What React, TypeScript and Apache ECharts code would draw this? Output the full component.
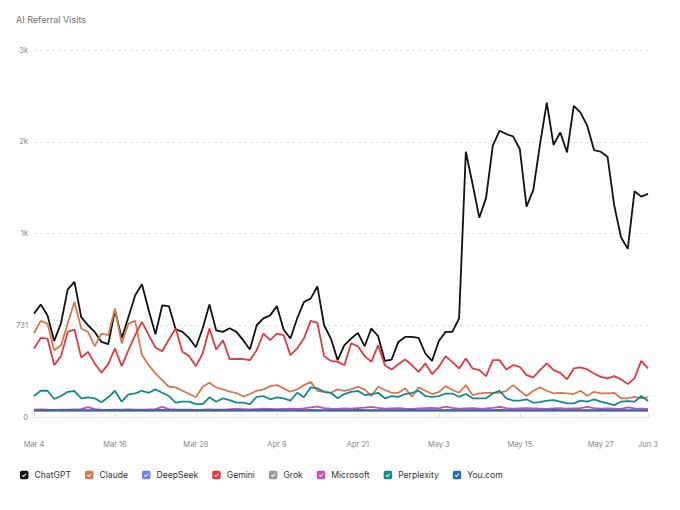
import React, { useEffect, useRef } from "react";
import * as echarts from "echarts";

const TITLE = "AI Referral Visits";

const SERIES_NAMES = ["ChatGPT", "Claude", "DeepSeek", "Gemini", "Grok", "Microsoft", "Perplexity", "You.com"];
const SERIES_COLORS = ["#111111", "#d9774f", "#6f7ff0", "#e23a40", "#9a9a9a", "#c64fbd", "#148a8f", "#2a6aae"];

// Non-linear (piecewise) y scale: equally spaced ticks
const Y_BREAKS = [0, 731, 1000, 2000, 3000];
const Y_LABELS = ["0", "731", "1k", "2k", "3k"];

// Date range Mar 4 – Jun 3
const MONTH_SPANS: [string, number, number][] = [
  ["Mar", 4, 31],
  ["Apr", 1, 30],
  ["May", 1, 31],
  ["Jun", 1, 3],
];

const chatgpt = [
  765, 792, 760, 606, 737, 836, 858, 755, 731, 678,
  598, 580, 775, 628, 755, 819, 851, 775, 660, 789,
  787, 699, 678, 628, 556, 707, 792, 691, 678, 707,
  678, 612, 538, 731, 751, 760, 787, 697, 625, 751,
  799, 809, 845, 731, 625, 453, 572, 625, 670, 564,
  705, 644, 447, 458, 598, 638, 638, 630, 506, 447,
  606, 678, 678, 751, 1891, 1540, 1171, 1388, 1957, 2120,
  2084, 2058, 1921, 1293, 1475, 1975, 2427, 1967, 2101, 1884,
  2391, 2318, 2174, 1910, 1891, 1837, 1304, 989, 955, 1460,
  1402, 1432,
];

const claude = [
  667, 744, 736, 532, 572, 736, 799, 705, 678, 564,
  665, 652, 780, 586, 736, 744, 493, 413, 347, 294,
  241, 236, 209, 183, 157, 241, 273, 236, 220, 203,
  191, 163, 183, 209, 220, 246, 254, 228, 201, 220,
  254, 280, 209, 201, 193, 220, 209, 220, 241, 220,
  167, 241, 215, 193, 193, 228, 161, 236, 209, 183,
  199, 246, 215, 193, 254, 175, 188, 193, 193, 193,
  209, 254, 209, 167, 209, 236, 209, 188, 193, 188,
  183, 209, 169, 201, 188, 188, 193, 149, 149, 161,
  149, 157,
];

const deepseek = [
  50, 50, 51, 50, 50, 50, 51, 50, 50, 50,
  51, 50, 50, 50, 50, 51, 50, 50, 50, 51,
  50, 50, 50, 51, 50, 50, 50, 50, 51, 50,
  50, 50, 51, 50, 50, 50, 50, 51, 50, 50,
  50, 51, 50, 50, 50, 51, 50, 50, 50, 50,
  51, 50, 50, 50, 51, 50, 50, 50, 50, 51,
  50, 50, 50, 51, 50, 50, 50, 50, 51, 50,
  50, 50, 51, 50, 50, 50, 50, 51, 50, 50,
  50, 51, 50, 50, 50, 50, 51, 50, 50, 50,
  51, 50,
];

const gemini = [
  546, 630, 625, 413, 485, 678, 697, 474, 519, 427,
  352, 421, 546, 405, 532, 652, 741, 652, 554, 524,
  617, 705, 519, 485, 405, 506, 705, 538, 612, 461,
  462, 462, 453, 532, 665, 612, 665, 652, 493, 546,
  625, 744, 738, 485, 447, 439, 413, 586, 564, 485,
  439, 572, 413, 379, 421, 458, 413, 360, 427, 342,
  400, 485, 437, 387, 466, 387, 373, 326, 453, 453,
  379, 413, 400, 334, 315, 373, 427, 373, 352, 300,
  387, 395, 379, 347, 320, 308, 326, 300, 262, 308,
  447, 387,
];

const grok = [
  48, 48, 48, 49, 48, 48, 48, 48, 49, 48,
  48, 48, 48, 48, 49, 48, 48, 48, 48, 48,
  49, 48, 48, 48, 48, 48, 49, 48, 48, 48,
  48, 48, 49, 48, 48, 48, 48, 48, 49, 48,
  48, 48, 48, 48, 49, 48, 48, 48, 48, 48,
  49, 48, 48, 48, 48, 48, 49, 48, 48, 48,
  48, 48, 49, 48, 48, 48, 48, 48, 49, 48,
  48, 48, 48, 48, 49, 48, 48, 48, 48, 48,
  49, 48, 48, 48, 48, 48, 49, 48, 48, 48,
  48, 48,
];

const microsoft = [
  58, 60, 58, 57, 59, 58, 60, 62, 78, 62,
  58, 57, 59, 58, 60, 58, 59, 60, 62, 80,
  63, 60, 58, 59, 57, 58, 60, 59, 58, 62,
  64, 62, 60, 63, 66, 64, 62, 65, 66, 64,
  68, 76, 82, 70, 66, 64, 68, 66, 70, 74,
  80, 72, 66, 68, 70, 66, 64, 68, 70, 72,
  68, 82, 72, 66, 68, 70, 66, 68, 72, 80,
  70, 66, 68, 70, 68, 66, 64, 68, 70, 66,
  68, 70, 80, 70, 66, 68, 66, 64, 76, 68,
  66, 64,
];

const perplexity = [
  167, 209, 209, 143, 167, 201, 207, 149, 157, 149,
  117, 157, 209, 122, 180, 188, 209, 193, 220, 193,
  167, 114, 122, 122, 103, 103, 157, 122, 149, 135,
  114, 114, 103, 161, 167, 141, 157, 149, 130, 193,
  157, 236, 228, 201, 193, 149, 183, 201, 209, 175,
  183, 193, 149, 167, 161, 183, 193, 209, 167, 161,
  167, 187, 187, 161, 183, 149, 149, 149, 188, 209,
  149, 130, 130, 141, 114, 119, 130, 135, 122, 109,
  109, 130, 122, 141, 122, 109, 95, 122, 127, 122,
  167, 127,
];

const youcom = [
  55, 55, 54, 55, 55, 56, 55, 55, 54, 55,
  55, 55, 56, 55, 55, 54, 55, 55, 55, 56,
  55, 55, 54, 55, 55, 55, 55, 56, 55, 55,
  54, 55, 55, 55, 56, 55, 55, 55, 54, 55,
  55, 56, 55, 55, 55, 54, 55, 55, 56, 55,
  55, 55, 55, 54, 55, 55, 56, 55, 55, 55,
  54, 55, 56, 55, 55, 55, 54, 55, 55, 56,
  55, 55, 55, 54, 55, 55, 55, 56, 55, 55,
  54, 55, 55, 55, 56, 55, 55, 54, 55, 55,
  55, 55,
];

const SERIES_VALUES = [chatgpt, claude, deepseek, gemini, grok, microsoft, perplexity, youcom];

function buildCategories(): string[] {
  const out: string[] = [];
  for (const [m, from, to] of MONTH_SPANS) {
    for (let d = from; d <= to; d++) out.push(`${m} ${d}`);
  }
  return out;
}

// piecewise scale: value -> axis position (0..4)
function toAxis(v: number): number {
  for (let k = 0; k < Y_BREAKS.length - 1; k++) {
    if (v <= Y_BREAKS[k + 1]) {
      return k + (v - Y_BREAKS[k]) / (Y_BREAKS[k + 1] - Y_BREAKS[k]);
    }
  }
  return Y_BREAKS.length - 1;
}

const CHECK_ICON =
  "path://M2 0H8Q10 0 10 2V8Q10 10 8 10H2Q0 10 0 8V2Q0 0 2 0Z M2.4 5.6L4.3 7.5L7.7 3.9L6.9 3.1L4.3 5.9L3.2 4.8Z";

export default function App() {
  const ref = useRef<HTMLDivElement>(null);

  useEffect(() => {
    document.body.style.margin = "0";
    if (!ref.current) return;
    const chart = echarts.init(ref.current, undefined, { renderer: "svg" });
    const categories = buildCategories();
    const lastIdx = categories.length - 1;
    const showTick = (i: number) => i % 12 === 0 || i === lastIdx;

    chart.setOption({
      animation: false,
      backgroundColor: "#ffffff",
      textStyle: { fontFamily: "Inter, 'Noto Sans', sans-serif" },
      title: {
        text: TITLE,
        left: 16,
        top: 15,
        padding: 0,
        textStyle: { fontSize: 9, fontWeight: "normal", color: "#707070" },
      },
      color: SERIES_COLORS,
      legend: {
        data: SERIES_NAMES,
        left: 20,
        top: 470,
        padding: 0,
        icon: CHECK_ICON,
        itemWidth: 8.5,
        itemHeight: 8.5,
        itemGap: 14,
        itemStyle: { borderWidth: 0 },
        textStyle: { fontSize: 8.6, color: "#333333", lineHeight: 10, padding: [0, 0, 0, 1] },
      },
      grid: { left: 34, right: 32, top: 50, bottom: 93, containLabel: false },
      xAxis: {
        type: "category",
        boundaryGap: false,
        data: categories,
        offset: 14,
        axisLine: { lineStyle: { color: "#e8e8e8" } },
        axisTick: { show: true, inside: true, length: 4, interval: showTick, lineStyle: { color: "#dddddd" } },
        axisLabel: { interval: showTick, color: "#888888", fontSize: 7.5, margin: 9 },
        splitLine: { show: false },
      },
      yAxis: {
        type: "value",
        min: 0,
        max: Y_LABELS.length - 1,
        interval: 1,
        axisLine: { show: false },
        axisTick: { show: false },
        axisLabel: {
          color: "#888888",
          fontSize: 7.5,
          margin: 6,
          formatter: (v: number) => Y_LABELS[Math.round(v)] ?? "",
        },
        splitLine: {
          show: true,
          lineStyle: {
            type: [3, 3],
            width: 1,
            color: ["rgba(0,0,0,0)", "#e2e2e2", "#e2e2e2", "#e2e2e2", "#e2e2e2"],
          },
        },
      },
      series: SERIES_NAMES.map((name, i) => ({
        name,
        type: "line",
        data: SERIES_VALUES[i].map(toAxis),
        showSymbol: false,
        symbol: "none",
        lineStyle: { width: 1.8, color: SERIES_COLORS[i] },
        itemStyle: { color: SERIES_COLORS[i] },
        emphasis: { disabled: true },
      })),
    });

    return () => chart.dispose();
  }, []);

  return <div ref={ref} style={{ width: 680, height: 510 }} />;
}
